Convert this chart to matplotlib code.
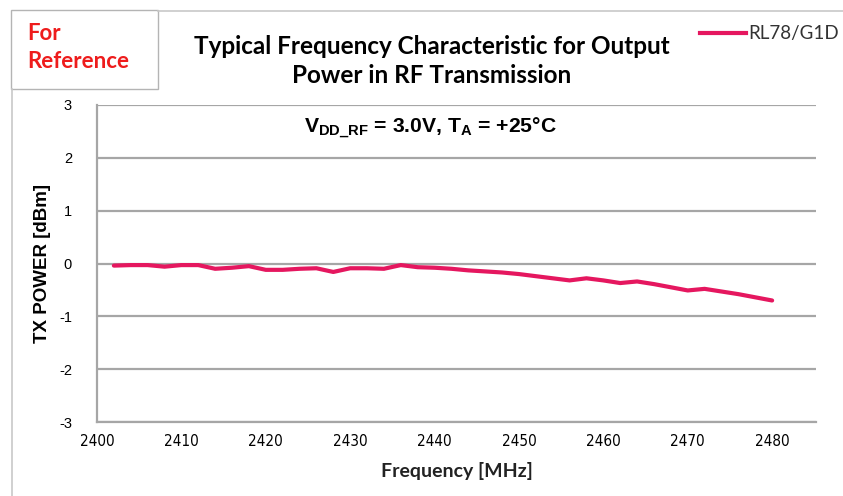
import matplotlib
matplotlib.use("Agg")
import matplotlib.pyplot as plt
from matplotlib.lines import Line2D
from matplotlib.patches import Rectangle

# Measured output power across the 2.4 GHz band
freq_mhz = [2402, 2404, 2406, 2408, 2410, 2412, 2414, 2416, 2418, 2420,
            2422, 2424, 2426, 2428, 2430, 2432, 2434, 2436, 2438, 2440,
            2442, 2444, 2446, 2448, 2450, 2452, 2454, 2456, 2458, 2460,
            2462, 2464, 2466, 2468, 2470, 2472, 2474, 2476, 2478, 2480]
tx_power_dbm = [-0.04, -0.03, -0.03, -0.06, -0.03, -0.03, -0.10, -0.08, -0.05, -0.12,
                -0.12, -0.10, -0.09, -0.16, -0.09, -0.09, -0.10, -0.03, -0.07, -0.08,
                -0.10, -0.13, -0.15, -0.17, -0.20, -0.24, -0.28, -0.32, -0.28, -0.32,
                -0.37, -0.34, -0.39, -0.45, -0.51, -0.48, -0.53, -0.58, -0.64, -0.70]
series_name = "RL78/G1D"
x_ticks = [2400, 2410, 2420, 2430, 2440, 2450, 2460, 2470, 2480]
y_ticks = [-3, -2, -1, 0, 1, 2, 3]

LINE_COLOR = "#e5175f"
GRID_COLOR = "#a6a6a6"

plt.rcParams["mathtext.fontset"] = "custom"
plt.rcParams["mathtext.rm"] = "Liberation Sans:bold"
plt.rcParams["mathtext.it"] = "Liberation Sans:bold"
plt.rcParams["mathtext.bf"] = "Liberation Sans:bold"

W, H = 843, 496
fig = plt.figure(figsize=(W / 100, H / 100), dpi=100)

def fx(px):
    return px / W

def fy(py):
    return 1 - py / H

left, right, top, bottom = 97, 816, 105, 422
ax = fig.add_axes([fx(left), fy(bottom), fx(right - left), (bottom - top) / H])

ax.plot(freq_mhz, tx_power_dbm, color=LINE_COLOR, lw=3.0, solid_capstyle="round",
        solid_joinstyle="round", zorder=3)

ax.set_xlim(2400, 2485.2)
ax.set_ylim(-3, 3)
ax.set_yticks(y_ticks)
ax.set_xticks(x_ticks)
ax.set_yticklabels([str(v) for v in y_ticks],
                   fontfamily=["Liberation Sans", "DejaVu Sans"], fontsize=10.5)
ax.set_xticklabels([str(v) for v in x_ticks],
                   fontfamily=["DejaVu Sans Condensed", "DejaVu Sans"],
                   fontsize=11, fontstretch="condensed")
ax.tick_params(axis="both", length=0, colors="black")
ax.tick_params(axis="y", pad=18)
ax.tick_params(axis="x", pad=9)

ax.grid(axis="y", color=GRID_COLOR, lw=1.6)
ax.set_axisbelow(True)
for side in ("top", "right"):
    ax.spines[side].set_visible(False)
for side in ("left", "bottom"):
    ax.spines[side].set_color(GRID_COLOR)
    ax.spines[side].set_linewidth(1.6)

ax.set_xlabel("Frequency [MHz]", fontfamily=["Lato", "DejaVu Sans"], fontweight="bold",
              fontsize=14, color="#222222", labelpad=9)
ax.set_ylabel("TX POWER [dBm]", fontfamily=["Liberation Sans", "DejaVu Sans"],
              fontweight="bold", fontsize=13.5, color="black", labelpad=6)

# Chart title
fig.text(fx(432), fy(61), "Typical Frequency Characteristic for Output\nPower in RF Transmission",
         ha="center", va="center", fontfamily=["Lato", "DejaVu Sans"], fontweight="bold",
         fontsize=17.5, linespacing=1.3, color="black")

# Test condition annotation
fig.text(fx(430), fy(128), r"$\mathbf{V_{DD\_RF}}$ = 3.0V, $\mathbf{T_A}$ = +25°C",
         ha="center", va="center", fontsize=15.2, fontweight="bold",
         fontfamily=["Liberation Sans", "DejaVu Sans"], color="black")

# Legend entry
fig.add_artist(Line2D([fx(700), fx(746)], [fy(33), fy(33)], color=LINE_COLOR, lw=3.0))
fig.text(fx(748), fy(33), series_name, ha="left", va="center",
         fontfamily=["Lato", "DejaVu Sans"], fontsize=13.5, color="#333333")

# Outer chart frame, partially covered by the note box
fig.add_artist(Line2D([fx(158), fx(843)], [fy(10.5), fy(10.5)], color="#c8c8c8", lw=1.2))
fig.add_artist(Line2D([fx(11.5), fx(11.5)], [fy(89), fy(496)], color="#c8c8c8", lw=1.2))

# "For Reference" note box
fig.add_artist(Rectangle((fx(11), fy(89)), fx(158 - 11), (89 - 10) / H, transform=fig.transFigure,
                         facecolor="white", edgecolor="#b4b4b4", lw=1.0))
fig.text(fx(27), fy(33), "For", ha="left", va="center", color="#ee1c1c",
         fontfamily=["Lato", "DejaVu Sans"], fontweight="bold", fontsize=16)
fig.text(fx(27), fy(62), "Reference", ha="left", va="center", color="#ee1c1c",
         fontfamily=["Lato", "DejaVu Sans"], fontweight="bold", fontsize=16)

fig.savefig("out.png", dpi=100, facecolor="white")
